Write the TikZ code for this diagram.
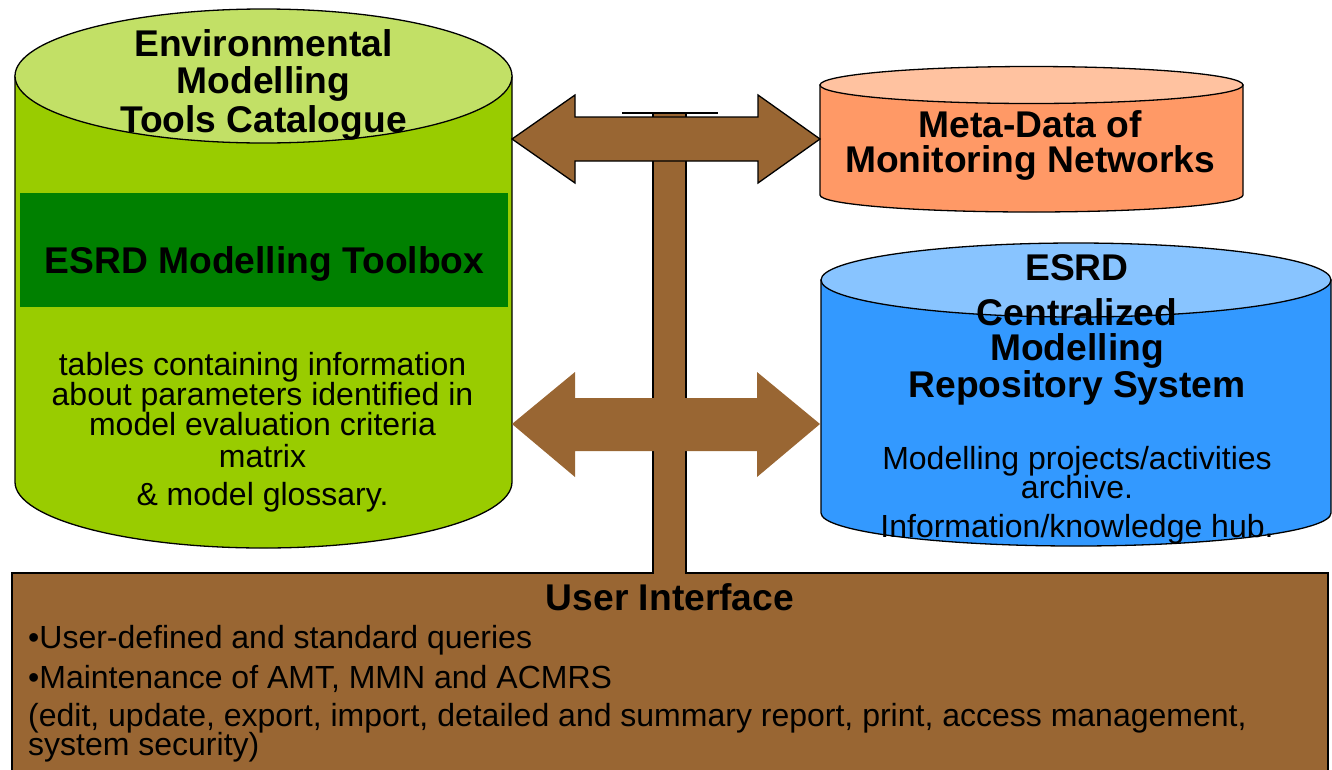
\documentclass[tikz,border=0pt]{standalone}
\usepackage{fontspec}
\setmainfont{Liberation Sans}
\definecolor{lgbody}{HTML}{99CC00}
\definecolor{lgtop}{HTML}{C2E066}
\definecolor{dkgreen}{HTML}{008000}
\definecolor{orbody}{HTML}{FF9966}
\definecolor{ortop}{HTML}{FFC2A0}
\definecolor{blbody}{HTML}{3399FF}
\definecolor{bltop}{HTML}{88C4FF}
\definecolor{uibrown}{HTML}{996633}
\begin{document}
\begin{tikzpicture}[x=1pt,y=1pt,
  outl/.style={draw=black, line width=1.3pt},
  ttl/.style={font=\fontsize{37.2}{40}\selectfont\bfseries, anchor=base, inner sep=0pt},
  txt/.style={font=\fontsize{32}{34}\selectfont, anchor=base, inner sep=0pt},
  txtl/.style={txt, anchor=base west}]
\useasboundingbox (0,0) rectangle (1332,-769);

% ---- Left cylinder
\path[outl, fill=lgbody] (15,-76) -- (15,-482) arc[start angle=180,end angle=360,x radius=248.5pt,y radius=66pt] -- (512,-76) -- cycle;
\path[outl, fill=lgtop] (263.5,-76) ellipse[x radius=248.5pt, y radius=67pt];
\node (toolbox) [fill=dkgreen, inner sep=0pt, minimum width=488pt, minimum height=114pt] at (264,-250) {};
\node (t1) [ttl] at (263.5,-56) {Environmental};
\node (t2) [ttl] at (263.5,-93) {Modelling};
\node (t3) [ttl] at (263.5,-132) {Tools Catalogue};
\node (tb) [ttl] at (264.5,-273) {ESRD Modelling Toolbox};
\node (b1) [txt] at (262.5,-375) {tables containing information};
\node (b2) [txt] at (262.5,-405) {about parameters identified in};
\node (b3) [txt] at (262.5,-435) {model evaluation criteria};
\node (b4) [txt] at (262.5,-467) {matrix};
\node (b5) [txt] at (262.5,-505) {\& model glossary.};

% ---- Orange cylinder
\path[outl, fill=orbody] (820,-85) -- (820,-195) arc[start angle=180,end angle=360,x radius=211.5pt,y radius=17pt] -- (1243,-85) -- cycle;
\path[outl, fill=ortop] (1031.5,-85) ellipse[x radius=211.5pt, y radius=18.5pt];
\node (o1) [ttl] at (1030,-137) {Meta-Data of};
\node (o2) [ttl] at (1030,-172) {Monitoring Networks};

% ---- Blue cylinder
\path[outl, fill=blbody] (821,-280) -- (821,-513) arc[start angle=180,end angle=360,x radius=255pt,y radius=33pt] -- (1331,-280) -- cycle;
\path[outl, fill=bltop] (1076,-280) ellipse[x radius=255pt, y radius=37pt];
\node (r1) [ttl] at (1077,-280) {ESRD};
\node (r2) [ttl] at (1077,-325) {Centralized};
\node (r3) [ttl] at (1077,-360) {Modelling};
\node (r4) [ttl] at (1077,-397) {Repository System};
\node (r5) [txt] at (1077,-469) {Modelling projects/activities};
\node (r6) [txt] at (1077,-498) {archive.};
\node (r7) [txt] at (1077,-537) {Information/knowledge hub.};

% ---- User interface box
\path[outl, fill=uibrown] (12,-573) rectangle (1328,-780);

% ---- Stem
\path[fill=uibrown] (653,-113) rectangle (686,-574.5);
\draw[line width=1.3pt] (653,-113) -- (653,-573.6) (686,-113) -- (686,-573.6);
\draw[line width=1.3pt] (622,-113) -- (718,-113);

% ---- Top double arrow
\path[outl, fill=uibrown, line join=miter] (512,-139) -- (575,-95) -- (575,-117) -- (758,-117) -- (758,-95) -- (820,-139) -- (758,-183) -- (758,-161) -- (575,-161) -- (575,-183) -- cycle;
% ---- Middle double arrow
\path[fill=uibrown] (512,-424) -- (575,-372) -- (575,-398) -- (757,-398) -- (757,-372) -- (820,-424) -- (757,-477) -- (757,-451) -- (575,-451) -- (575,-477) -- cycle;

% ---- UI texts
\node (u0) [ttl] at (670,-610) {User Interface};
\node (u1) [txtl] at (28,-648) {•User-defined and standard queries};
\node (u2) [txtl] at (28,-688) {•Maintenance of AMT, MMN and ACMRS};
\node (u3) [txtl] at (28,-726) {(edit, update, export, import, detailed and summary report, print, access management,};
\node (u4) [txtl] at (28,-755) {system security)};
\end{tikzpicture}
\end{document}
